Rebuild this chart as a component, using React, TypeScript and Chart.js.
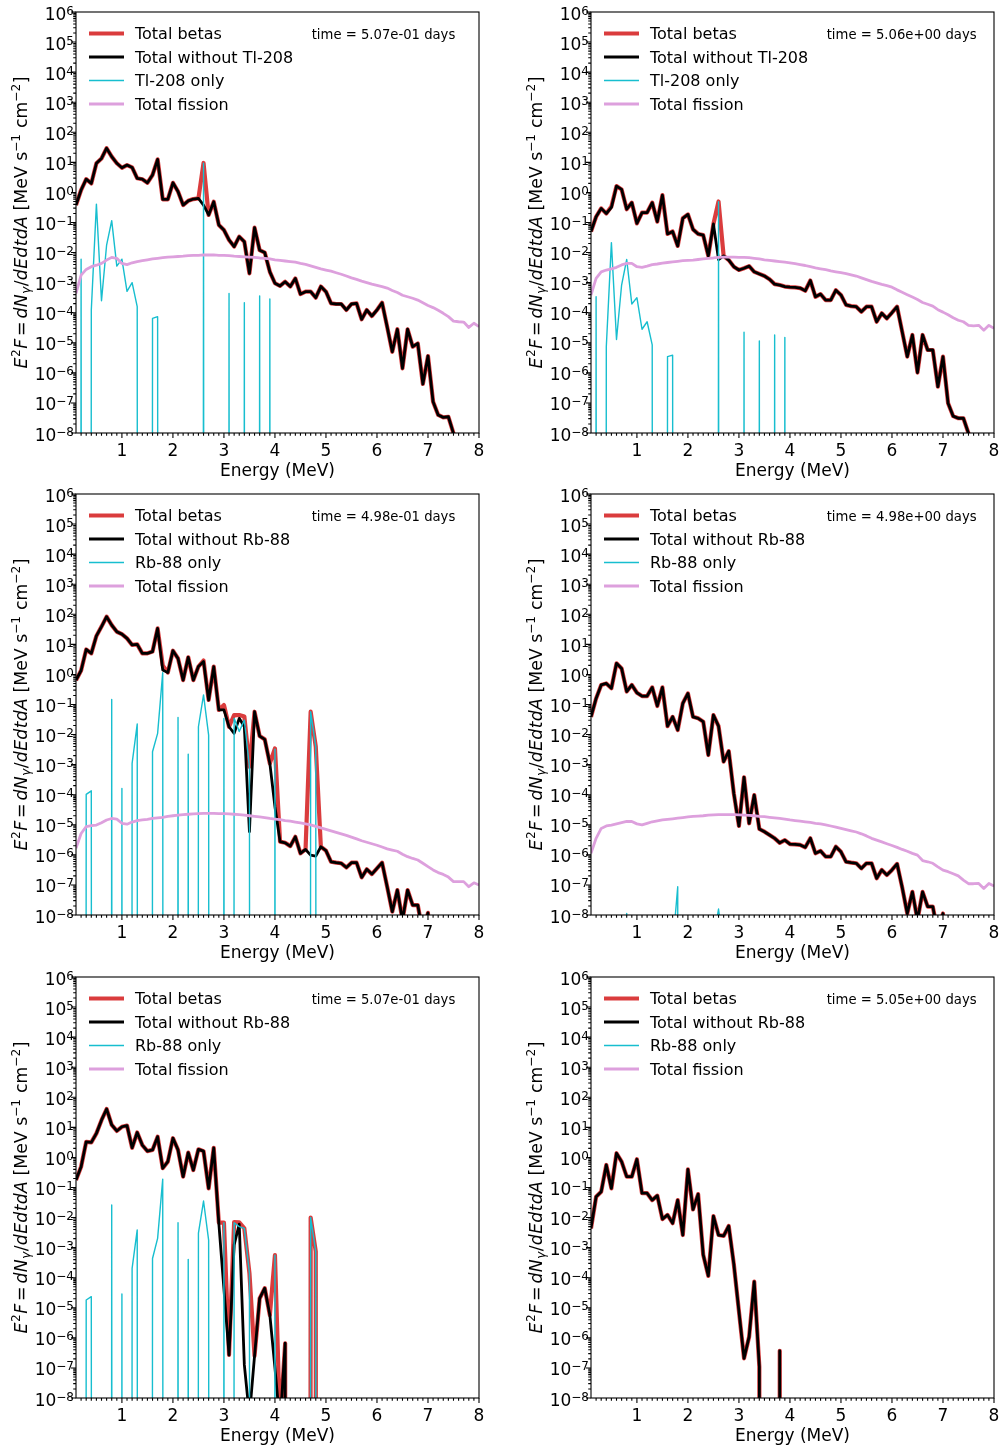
import { useEffect, useRef } from 'react';
import { Chart, registerables } from 'chart.js';

Chart.register(...registerables);

// Exponent used for empty bins: the curve drops straight off the log axis there.
const Z = -300;

// Bin energies (MeV), lower edges of 0.1 MeV bins.
const ENERGY_MEV = [
  0.1, 0.2, 0.3, 0.4, 0.5, 0.6, 0.7, 0.8, 0.9, 1.0,
  1.1, 1.2, 1.3, 1.4, 1.5, 1.6, 1.7, 1.8, 1.9, 2.0,
  2.1, 2.2, 2.3, 2.4, 2.5, 2.6, 2.7, 2.8, 2.9, 3.0,
  3.1, 3.2, 3.3, 3.4, 3.5, 3.6, 3.7, 3.8, 3.9, 4.0,
  4.1, 4.2, 4.3, 4.4, 4.5, 4.6, 4.7, 4.8, 4.9, 5.0,
  5.1, 5.2, 5.3, 5.4, 5.5, 5.6, 5.7, 5.8, 5.9, 6.0,
  6.1, 6.2, 6.3, 6.4, 6.5, 6.6, 6.7, 6.8, 6.9, 7.0,
  7.1, 7.2, 7.3, 7.4, 7.5, 7.6, 7.7, 7.8, 7.9, 8.0,
];

// All spectra below are log10(E^2 F) per bin, in MeV s^-1 cm^-2.

// ---------- Tl-208 case, time = 5.07e-01 days ----------
const TL_A_TOTAL = [
  -0.42, 0.08, 0.44, 0.30, 0.97, 1.13, 1.47, 1.19, 0.97, 0.82,
  0.91, 0.83, 0.47, 0.44, 0.32, 0.58, 1.10, -0.23, -0.23, 0.32,
  0.03, -0.42, -0.28, -0.22, -0.20, 0.98, -0.75, -0.31, -1.08, -1.25,
  -1.58, -1.80, -1.47, -1.64, -2.69, -1.17, -1.92, -2.00, -2.64, -3.02,
  -3.11, -2.97, -3.13, -2.86, -3.38, -3.30, -3.30, -3.50, -3.13, -3.30,
  -3.69, -3.71, -3.71, -3.91, -3.71, -3.69, -4.22, -3.91, -4.11, -3.91,
  -3.67, -4.47, -5.30, -4.55, -5.85, -4.55, -5.13, -5.02, -6.37, -5.44,
  -6.96, -7.40, -7.48, -7.46, -8.01, Z, Z, Z, Z, Z,
];
const TL_A_WITHOUT = [
  -0.42, 0.08, 0.44, 0.30, 0.97, 1.13, 1.47, 1.19, 0.97, 0.82,
  0.91, 0.83, 0.47, 0.44, 0.32, 0.58, 1.10, -0.23, -0.23, 0.32,
  0.03, -0.42, -0.28, -0.22, -0.20, -0.42, -0.75, -0.31, -1.08, -1.25,
  -1.58, -1.80, -1.47, -1.64, -2.69, -1.17, -1.92, -2.00, -2.64, -3.02,
  -3.11, -2.97, -3.13, -2.86, -3.38, -3.30, -3.30, -3.50, -3.13, -3.30,
  -3.69, -3.71, -3.71, -3.91, -3.71, -3.69, -4.22, -3.91, -4.11, -3.91,
  -3.67, -4.47, -5.30, -4.55, -5.85, -4.55, -5.13, -5.02, -6.37, -5.44,
  -6.96, -7.40, -7.48, -7.46, -8.01, Z, Z, Z, Z, Z,
];
// [energy, log10 value] for the non-empty bins
const TL_A_ONLY: [number, number][] = [
  [0.2, -2.22], [0.4, -3.91], [0.5, -0.39], [0.6, -3.60], [0.7, -1.75],
  [0.8, -0.94], [0.9, -2.45], [1.0, -2.22], [1.1, -3.29], [1.2, -3.00],
  [1.3, -3.80], [1.6, -4.19], [1.7, -4.13], [2.6, 0.97], [3.1, -3.36],
  [3.4, -3.67], [3.7, -3.44], [3.9, -3.54],
];
const TL_A_FISSION = [
  -3.36, -2.75, -2.56, -2.47, -2.42, -2.36, -2.25, -2.16, -2.19, -2.36,
  -2.40, -2.34, -2.30, -2.27, -2.24, -2.21, -2.19, -2.17, -2.15, -2.14,
  -2.13, -2.12, -2.10, -2.09, -2.09, -2.08, -2.08, -2.08, -2.09, -2.09,
  -2.10, -2.12, -2.13, -2.14, -2.15, -2.16, -2.18, -2.19, -2.21, -2.24,
  -2.26, -2.28, -2.30, -2.32, -2.36, -2.39, -2.44, -2.49, -2.54, -2.58,
  -2.62, -2.67, -2.72, -2.78, -2.84, -2.89, -2.95, -3.00, -3.05, -3.09,
  -3.13, -3.18, -3.26, -3.33, -3.42, -3.47, -3.52, -3.58, -3.67, -3.76,
  -3.83, -3.92, -4.02, -4.13, -4.28, -4.30, -4.31, -4.49, -4.35, -4.46,
];

// ---------- Tl-208 case, time = 5.06e+00 days ----------
const TL_B_TOTAL = [
  -1.30, -0.81, -0.53, -0.70, -0.47, 0.21, 0.10, -0.56, -0.34, -1.03,
  -0.67, -0.67, -0.34, -0.97, -0.09, -1.38, -1.30, -1.78, -0.86, -0.73,
  -1.23, -1.38, -1.42, -2.11, -1.05, -0.30, -2.11, -2.25, -2.47, -2.58,
  -2.52, -2.45, -2.64, -2.71, -2.78, -2.89, -3.05, -3.08, -3.13, -3.15,
  -3.16, -3.18, -3.27, -2.93, -3.47, -3.38, -3.58, -3.58, -3.25, -3.41,
  -3.74, -3.78, -3.80, -3.97, -3.80, -3.80, -4.30, -4.02, -4.19, -4.00,
  -3.80, -4.63, -5.46, -4.74, -5.99, -4.74, -5.24, -5.24, -6.46, -5.46,
  -7.01, -7.44, -7.51, -7.51, -8.01, Z, Z, Z, Z, Z,
];
const TL_B_WITHOUT = [
  -1.30, -0.81, -0.53, -0.70, -0.50, 0.21, 0.10, -0.56, -0.34, -1.03,
  -0.67, -0.67, -0.34, -0.97, -0.09, -1.38, -1.30, -1.78, -0.86, -0.73,
  -1.23, -1.38, -1.42, -2.11, -1.05, -2.23, -2.11, -2.25, -2.47, -2.58,
  -2.52, -2.45, -2.64, -2.71, -2.78, -2.89, -3.05, -3.08, -3.13, -3.15,
  -3.16, -3.18, -3.27, -2.93, -3.47, -3.38, -3.58, -3.58, -3.25, -3.41,
  -3.74, -3.78, -3.80, -3.97, -3.80, -3.80, -4.30, -4.02, -4.19, -4.00,
  -3.80, -4.63, -5.46, -4.74, -5.99, -4.74, -5.24, -5.24, -6.46, -5.46,
  -7.01, -7.44, -7.51, -7.51, -8.01, Z, Z, Z, Z, Z,
];
const TL_B_ONLY: [number, number][] = [
  [0.2, -3.47], [0.4, -5.13], [0.5, -1.67], [0.6, -4.89], [0.7, -3.08],
  [0.8, -2.23], [0.9, -3.71], [1.0, -3.50], [1.1, -4.55], [1.2, -4.30],
  [1.3, -5.07], [1.6, -5.46], [1.7, -5.41], [2.6, -0.31], [3.1, -4.65],
  [3.4, -4.94], [3.7, -4.74], [3.9, -4.82],
];
const TL_B_FISSION = [
  -3.41, -2.86, -2.64, -2.58, -2.54, -2.49, -2.41, -2.36, -2.36, -2.47,
  -2.49, -2.45, -2.40, -2.38, -2.35, -2.33, -2.31, -2.29, -2.27, -2.26,
  -2.25, -2.23, -2.21, -2.19, -2.18, -2.16, -2.15, -2.15, -2.15, -2.16,
  -2.16, -2.17, -2.19, -2.21, -2.24, -2.26, -2.28, -2.30, -2.32, -2.34,
  -2.37, -2.40, -2.43, -2.47, -2.51, -2.54, -2.57, -2.61, -2.64, -2.67,
  -2.70, -2.74, -2.78, -2.84, -2.90, -2.96, -3.01, -3.06, -3.10, -3.15,
  -3.24, -3.32, -3.40, -3.48, -3.56, -3.66, -3.72, -3.78, -3.90, -3.98,
  -4.07, -4.17, -4.25, -4.30, -4.42, -4.44, -4.42, -4.58, -4.42, -4.52,
];

// ---------- Rb-88 case, time = 4.98e-01 days ----------
const RB_A_TOTAL = [
  -0.19, 0.13, 0.83, 0.70, 1.28, 1.59, 1.92, 1.64, 1.42, 1.34,
  1.20, 0.98, 1.00, 0.70, 0.70, 0.76, 1.53, 0.30, 0.06, 0.79,
  0.53, -0.19, 0.57, -0.19, 0.26, 0.46, -0.85, 0.26, -1.18, -1.02,
  -1.74, -1.35, -1.35, -1.40, -3.07, -1.24, -2.05, -2.16, -2.96, -2.46,
  -5.56, -5.60, -5.71, -5.40, -5.95, -5.82, -1.24, -2.40, -5.73, -5.86,
  -6.23, -6.26, -6.28, -6.42, -6.26, -6.26, -6.75, -6.48, -6.64, -6.45,
  -6.26, -7.06, -7.89, -7.17, -8.17, -7.17, -7.67, -7.67, -8.60, -7.93,
  Z, Z, Z, Z, Z, Z, Z, Z, Z, Z,
];
const RB_A_WITHOUT = [
  -0.19, 0.13, 0.83, 0.70, 1.28, 1.59, 1.92, 1.64, 1.42, 1.34,
  1.20, 0.98, 1.00, 0.70, 0.70, 0.76, 1.53, 0.15, 0.06, 0.79,
  0.53, -0.19, 0.57, -0.19, 0.26, 0.43, -0.85, 0.26, -1.18, -1.18,
  -1.74, -1.96, -1.46, -1.74, -5.23, -1.24, -2.05, -2.16, -2.96, -4.40,
  -5.56, -5.60, -5.71, -5.40, -5.95, -5.82, -6.01, -6.04, -5.73, -5.86,
  -6.23, -6.26, -6.28, -6.42, -6.26, -6.26, -6.75, -6.48, -6.64, -6.45,
  -6.26, -7.06, -7.89, -7.17, -8.17, -7.17, -7.67, -7.67, -8.60, -7.93,
  Z, Z, Z, Z, Z, Z, Z, Z, Z, Z,
];
const RB_A_ONLY: [number, number][] = [
  [0.3, -3.99], [0.4, -3.87], [0.8, -0.83], [1.0, -3.79], [1.2, -2.96],
  [1.3, -1.65], [1.6, -2.57], [1.7, -1.96], [1.8, 0.06], [2.1, -1.43],
  [2.3, -2.65], [2.5, -1.74], [2.6, -0.68], [2.7, -2.02], [3.0, -1.46],
  [3.2, -1.46], [3.3, -1.90], [3.4, -1.52], [3.5, -3.07], [4.0, -2.49],
  [4.7, -1.24], [4.8, -2.40],
];
const RB_A_FISSION = [
  -5.78, -5.29, -5.06, -5.03, -5.01, -4.93, -4.84, -4.79, -4.81, -4.95,
  -4.98, -4.91, -4.86, -4.84, -4.82, -4.79, -4.77, -4.75, -4.72, -4.70,
  -4.68, -4.66, -4.65, -4.64, -4.63, -4.62, -4.62, -4.62, -4.63, -4.63,
  -4.64, -4.65, -4.66, -4.68, -4.70, -4.72, -4.74, -4.76, -4.79, -4.81,
  -4.83, -4.86, -4.88, -4.91, -4.94, -4.97, -5.00, -5.05, -5.10, -5.15,
  -5.20, -5.25, -5.30, -5.35, -5.41, -5.47, -5.53, -5.58, -5.63, -5.68,
  -5.74, -5.80, -5.84, -5.88, -5.98, -6.06, -6.12, -6.17, -6.28, -6.39,
  -6.50, -6.59, -6.65, -6.74, -6.89, -6.89, -6.89, -7.06, -6.93, -7.00,
];

// ---------- Rb-88 case, time = 4.98e+00 days ----------
const RB_B_TOTAL = [
  -1.41, -0.80, -0.35, -0.30, -0.46, 0.37, 0.20, -0.57, -0.35, -0.61,
  -0.72, -0.72, -0.43, -1.05, -0.43, -1.72, -1.41, -1.85, -0.96, -0.63,
  -1.41, -1.46, -1.57, -2.68, -1.35, -1.72, -2.90, -2.55, -3.96, -5.04,
  -3.42, -4.95, -4.01, -5.14, -5.23, -5.34, -5.45, -5.60, -5.51, -5.64,
  -5.65, -5.67, -5.75, -5.45, -5.95, -5.87, -6.06, -6.06, -5.73, -5.90,
  -6.23, -6.26, -6.28, -6.45, -6.28, -6.28, -6.78, -6.50, -6.67, -6.50,
  -6.30, -7.08, -7.95, -7.23, -8.17, -7.23, -7.72, -7.72, -8.60, -7.95,
  Z, Z, Z, Z, Z, Z, Z, Z, Z, Z,
];
const RB_B_WITHOUT = [
  -1.41, -0.80, -0.35, -0.30, -0.46, 0.37, 0.20, -0.57, -0.35, -0.61,
  -0.72, -0.72, -0.43, -1.05, -0.43, -1.72, -1.41, -1.85, -0.96, -0.63,
  -1.41, -1.46, -1.57, -2.68, -1.35, -1.72, -2.90, -2.55, -3.96, -5.04,
  -3.42, -4.95, -4.01, -5.14, -5.23, -5.34, -5.45, -5.60, -5.51, -5.64,
  -5.65, -5.67, -5.75, -5.45, -5.95, -5.87, -6.06, -6.06, -5.73, -5.90,
  -6.23, -6.26, -6.28, -6.45, -6.28, -6.28, -6.78, -6.50, -6.67, -6.50,
  -6.30, -7.08, -7.95, -7.23, -8.17, -7.23, -7.72, -7.72, -8.60, -7.95,
  Z, Z, Z, Z, Z, Z, Z, Z, Z, Z,
];
const RB_B_ONLY: [number, number][] = [
  [0.8, -7.95], [1.6, -9.69], [1.7, -9.08], [1.8, -7.06],
  [2.5, -8.86], [2.6, -7.80], [2.7, -9.14],
];
const RB_B_FISSION = [
  -5.95, -5.45, -5.12, -5.04, -5.01, -4.97, -4.93, -4.89, -4.89, -4.97,
  -5.00, -4.95, -4.90, -4.87, -4.84, -4.82, -4.80, -4.78, -4.76, -4.74,
  -4.72, -4.71, -4.70, -4.68, -4.67, -4.66, -4.66, -4.66, -4.66, -4.67,
  -4.68, -4.69, -4.70, -4.72, -4.73, -4.75, -4.77, -4.79, -4.81, -4.84,
  -4.86, -4.88, -4.90, -4.92, -4.95, -4.97, -5.00, -5.04, -5.08, -5.12,
  -5.16, -5.20, -5.24, -5.30, -5.37, -5.45, -5.51, -5.57, -5.63, -5.69,
  -5.75, -5.82, -5.88, -5.95, -6.01, -6.19, -6.23, -6.28, -6.40, -6.51,
  -6.56, -6.63, -6.70, -6.84, -6.96, -6.96, -6.95, -7.12, -6.95, -7.04,
];

// ---------- Rb-88 case, time = 5.07e-01 days ----------
const RB_C_TOTAL = [
  -0.75, -0.31, 0.52, 0.50, 0.80, 1.24, 1.61, 1.08, 0.88, 1.02,
  1.06, 0.32, 0.83, 0.41, 0.21, 0.25, 0.69, -0.36, -0.14, 0.64,
  0.25, -0.64, 0.16, -0.42, 0.27, 0.21, -1.03, 0.32, -2.17, -2.17,
  -6.57, -2.15, -2.16, -2.36, -3.85, -6.60, -4.69, -4.35, -5.24, -3.25,
  -8.90, -6.18, Z, Z, Z, Z, -2.00, -3.13, Z, Z,
  Z, Z, Z, Z, Z, Z, Z, Z, Z, Z,
  Z, Z, Z, Z, Z, Z, Z, Z, Z, Z,
  Z, Z, Z, Z, Z, Z, Z, Z, Z, Z,
];
const RB_C_WITHOUT = [
  -0.75, -0.31, 0.52, 0.50, 0.80, 1.24, 1.61, 1.08, 0.88, 1.02,
  1.06, 0.32, 0.83, 0.41, 0.21, 0.25, 0.69, -0.36, -0.14, 0.64,
  0.25, -0.64, 0.16, -0.42, 0.27, 0.21, -1.03, 0.32, -2.19, -4.38,
  -6.57, -2.91, -2.22, -6.90, -8.60, -6.60, -4.69, -4.35, -5.24, -7.00,
  -8.90, -6.18, Z, Z, Z, Z, Z, Z, Z, Z,
  Z, Z, Z, Z, Z, Z, Z, Z, Z, Z,
  Z, Z, Z, Z, Z, Z, Z, Z, Z, Z,
  Z, Z, Z, Z, Z, Z, Z, Z, Z, Z,
];
const RB_C_ONLY: [number, number][] = [
  [0.3, -4.74], [0.4, -4.63], [0.8, -1.58], [1.0, -4.54], [1.2, -3.69],
  [1.3, -2.41], [1.6, -3.36], [1.7, -2.69], [1.8, -0.72], [2.1, -2.17],
  [2.3, -3.39], [2.5, -2.52], [2.6, -1.45], [2.7, -2.75], [3.0, -2.17],
  [3.2, -2.17], [3.3, -2.30], [3.4, -2.36], [3.5, -3.85], [4.0, -3.25],
  [4.7, -2.00], [4.8, -3.13],
];
const RB_C_FISSION: number[] = [];

// ---------- Rb-88 case, time = 5.05e+00 days ----------
const RB_D_TOTAL = [
  -2.36, -1.31, -1.14, -0.25, -1.03, 0.14, -0.14, -0.64, -0.64, -0.06,
  -1.19, -1.19, -1.42, -1.27, -2.05, -1.91, -2.19, -1.42, -2.58, -0.40,
  -1.73, -1.22, -3.24, -3.94, -1.95, -2.58, -2.61, -2.28, -3.55, -5.12,
  -6.68, -5.96, -4.13, -6.96, Z, Z, Z, -6.43, Z, Z,
  Z, Z, Z, Z, Z, Z, Z, Z, Z, Z,
  Z, Z, Z, Z, Z, Z, Z, Z, Z, Z,
  Z, Z, Z, Z, Z, Z, Z, Z, Z, Z,
  Z, Z, Z, Z, Z, Z, Z, Z, Z, Z,
];
const RB_D_WITHOUT = [
  -2.36, -1.31, -1.14, -0.25, -1.03, 0.14, -0.14, -0.64, -0.64, -0.06,
  -1.19, -1.19, -1.42, -1.27, -2.05, -1.91, -2.19, -1.42, -2.58, -0.40,
  -1.73, -1.22, -3.24, -3.94, -1.95, -2.58, -2.61, -2.28, -3.55, -5.12,
  -6.68, -5.96, -4.13, -6.96, Z, Z, Z, -6.43, Z, Z,
  Z, Z, Z, Z, Z, Z, Z, Z, Z, Z,
  Z, Z, Z, Z, Z, Z, Z, Z, Z, Z,
  Z, Z, Z, Z, Z, Z, Z, Z, Z, Z,
  Z, Z, Z, Z, Z, Z, Z, Z, Z, Z,
];
const RB_D_ONLY: [number, number][] = [];
const RB_D_FISSION: number[] = [];

const Y_EXPONENTS = [-8, -7, -6, -5, -4, -3, -2, -1, 0, 1, 2, 3, 4, 5, 6];
const X_TICKS = [1, 2, 3, 4, 5, 6, 7, 8];

const RED = 'rgba(214, 39, 40, 0.9)';
const CYAN = '#17becf';
const PLUM = '#dda0dd';
const FONT = '"DejaVu Sans", "Liberation Sans", sans-serif';

type PanelSpec = {
  total: number[];
  without: number[];
  only: [number, number][];
  fission: number[];
  isotope: string;
  time: string;
};

const PANELS: PanelSpec[] = [
  { total: TL_A_TOTAL, without: TL_A_WITHOUT, only: TL_A_ONLY, fission: TL_A_FISSION, isotope: 'Tl-208', time: 'time = 5.07e-01 days' },
  { total: TL_B_TOTAL, without: TL_B_WITHOUT, only: TL_B_ONLY, fission: TL_B_FISSION, isotope: 'Tl-208', time: 'time = 5.06e+00 days' },
  { total: RB_A_TOTAL, without: RB_A_WITHOUT, only: RB_A_ONLY, fission: RB_A_FISSION, isotope: 'Rb-88', time: 'time = 4.98e-01 days' },
  { total: RB_B_TOTAL, without: RB_B_WITHOUT, only: RB_B_ONLY, fission: RB_B_FISSION, isotope: 'Rb-88', time: 'time = 4.98e+00 days' },
  { total: RB_C_TOTAL, without: RB_C_WITHOUT, only: RB_C_ONLY, fission: RB_C_FISSION, isotope: 'Rb-88', time: 'time = 5.07e-01 days' },
  { total: RB_D_TOTAL, without: RB_D_WITHOUT, only: RB_D_ONLY, fission: RB_D_FISSION, isotope: 'Rb-88', time: 'time = 5.05e+00 days' },
];

// canvas geometry
const CANVAS_H = 482;
const PLOT_LEFT = 76;
const PLOT_RIGHT = 479;
const PLOT_TOP = 12;
const PLOT_BOTTOM = 433;

function toPoints(logs: number[]) {
  return logs.map((v, i) => ({ x: ENERGY_MEV[i], y: Math.pow(10, v) }));
}

function denseFromPairs(pairs: [number, number][]) {
  return ENERGY_MEV.map((e) => {
    const hit = pairs.find((p) => Math.abs(p[0] - e) < 1e-6);
    return hit ? hit[1] : Z;
  });
}

// rich-text pieces of the y-axis title; `gap` adds math-style spacing after a piece
type Seg = { t: string; it?: boolean; sup?: boolean; sub?: boolean; gap?: number };

const Y_TITLE: Seg[] = [
  { t: 'E', it: true, gap: 0.5 }, { t: '2', sup: true, gap: 0.5 }, { t: 'F', it: true, gap: 3 },
  { t: '=', gap: 3 },
  { t: 'd', it: true, gap: 0.3 }, { t: 'N', it: true, gap: 0.3 }, { t: 'γ', it: true, sub: true, gap: 0.5 },
  { t: '/', gap: 0.3 },
  { t: 'd', it: true, gap: 0.3 }, { t: 'E', it: true, gap: 0.3 }, { t: 'd', it: true, gap: 0.3 },
  { t: 't', it: true, gap: 0.3 }, { t: 'd', it: true, gap: 0.3 }, { t: 'A', it: true, gap: 0.3 },
  { t: ' [MeV s' }, { t: '\u22121', sup: true, gap: 0.5 },
  { t: ' cm' }, { t: '\u22122', sup: true, gap: 0.5 }, { t: ']' },
];

function segFont(s: Seg, fs: number) {
  const size = s.sup || s.sub ? fs * 0.7 : fs;
  return `${s.it ? 'italic ' : ''}${size}px ${FONT}`;
}

function decorations(spec: PanelSpec) {
  return {
    id: 'decorations',
    afterDraw(chart: any) {
      const ctx: CanvasRenderingContext2D = chart.ctx;
      const { left, right, top, bottom } = chart.chartArea;
      const xs = chart.scales.x;
      const ys = chart.scales.y;
      ctx.save();
      ctx.strokeStyle = '#000';
      ctx.fillStyle = '#000';
      ctx.lineWidth = 1.1;

      // frame
      ctx.strokeRect(left, top, right - left, bottom - top);

      // y ticks
      ctx.beginPath();
      Y_EXPONENTS.forEach((e) => {
        const y = ys.getPixelForValue(Math.pow(10, e));
        ctx.moveTo(left - 5, y);
        ctx.lineTo(left, y);
        if (e < 6) {
          for (let m = 2; m <= 9; m++) {
            const ym = ys.getPixelForValue(m * Math.pow(10, e));
            ctx.moveTo(left - 2.8, ym);
            ctx.lineTo(left, ym);
          }
        }
      });
      // x ticks: majors at whole MeV, minors every 0.1 MeV
      X_TICKS.forEach((k) => {
        const x = xs.getPixelForValue(k);
        ctx.moveTo(x, bottom);
        ctx.lineTo(x, bottom + 5);
      });
      for (let k = 2; k < 80; k++) {
        if (k % 10 === 0) continue;
        const x = xs.getPixelForValue(k / 10);
        ctx.moveTo(x, bottom);
        ctx.lineTo(x, bottom + 2.8);
      }
      ctx.stroke();

      // y tick labels 10^n
      ctx.textBaseline = 'alphabetic';
      ctx.textAlign = 'left';
      Y_EXPONENTS.forEach((e) => {
        const y = ys.getPixelForValue(Math.pow(10, e));
        const exp = e < 0 ? '\u2212' + String(-e) : String(e);
        ctx.font = `17px ${FONT}`;
        const wb = ctx.measureText('10').width;
        ctx.font = `12px ${FONT}`;
        const we = ctx.measureText(exp).width;
        const xr = left - 2;
        ctx.font = `17px ${FONT}`;
        ctx.fillText('10', xr - we - wb, y + 7.5);
        ctx.font = `12px ${FONT}`;
        ctx.fillText(exp, xr - we, y + 2.5);
      });

      // x tick labels
      ctx.font = `17px ${FONT}`;
      ctx.textAlign = 'center';
      X_TICKS.forEach((k) => {
        ctx.fillText(String(k), xs.getPixelForValue(k), bottom + 23);
      });
      ctx.fillText('Energy (MeV)', (left + right) / 2, bottom + 43);

      // y title, rotated
      ctx.save();
      ctx.translate(27, (top + bottom) / 2);
      ctx.rotate(-Math.PI / 2);
      ctx.textAlign = 'left';
      const fs = 17.3;
      let total = 0;
      Y_TITLE.forEach((s) => {
        ctx.font = segFont(s, fs);
        total += ctx.measureText(s.t).width + (s.gap || 0);
      });
      let cx = -total / 2;
      Y_TITLE.forEach((s) => {
        ctx.font = segFont(s, fs);
        const dy = s.sup ? -0.4 * fs : s.sub ? 0.18 * fs : 0;
        ctx.fillText(s.t, cx, dy);
        cx += ctx.measureText(s.t).width + (s.gap || 0);
      });
      ctx.restore();

      // legend
      const entries = [
        { label: 'Total betas', color: RED, w: 4.2 },
        { label: `Total without ${spec.isotope}`, color: '#000', w: 2.8 },
        { label: `${spec.isotope} only`, color: CYAN, w: 1.4 },
        { label: 'Total fission', color: PLUM, w: 2.8 },
      ];
      ctx.font = `16px ${FONT}`;
      ctx.textAlign = 'left';
      entries.forEach((en, i) => {
        const yh = top + 21.5 + i * 23.5;
        ctx.beginPath();
        ctx.strokeStyle = en.color;
        ctx.lineWidth = en.w;
        ctx.lineCap = 'butt';
        ctx.moveTo(left + 13, yh);
        ctx.lineTo(left + 48, yh);
        ctx.stroke();
        ctx.fillStyle = '#000';
        ctx.fillText(en.label, left + 59, yh + 5.8);
      });

      // time stamp
      ctx.font = `13.2px ${FONT}`;
      ctx.fillText(spec.time, left + 235.7, top + 26.7);
      ctx.restore();
    },
  };
}

function SpectrumPanel({ spec, x, y, w }: { spec: PanelSpec; x: number; y: number; w: number }) {
  const ref = useRef<HTMLCanvasElement>(null);
  useEffect(() => {
    const canvas = ref.current;
    if (!canvas) return;
    const line = (data: any[], color: string, width: number, order: number) => ({
      data,
      borderColor: color,
      backgroundColor: color,
      borderWidth: width,
      pointRadius: 0,
      tension: 0,
      fill: false,
      borderJoinStyle: 'round' as const,
      borderCapStyle: 'butt' as const,
      clip: 0,
      order,
    });
    const chart = new Chart(canvas, {
      type: 'line',
      data: {
        datasets: [
          line(toPoints(spec.total), RED, 4.2, 3),
          line(toPoints(spec.without), '#000', 2.8, 2),
          line(toPoints(denseFromPairs(spec.only)), CYAN, 1.4, 1),
          line(spec.fission.length ? toPoints(spec.fission) : [], PLUM, 2.8, 0),
        ],
      },
      options: {
        animation: false,
        responsive: false,
        maintainAspectRatio: false,
        devicePixelRatio: 1,
        events: [],
        layout: {
          padding: { left: PLOT_LEFT, right: w - PLOT_RIGHT, top: PLOT_TOP, bottom: CANVAS_H - PLOT_BOTTOM },
        },
        scales: {
          x: { type: 'linear', min: 0.1, max: 8, display: false },
          y: { type: 'logarithmic', min: 1e-8, max: 1e6, display: false },
        },
        plugins: { legend: { display: false }, tooltip: { enabled: false } },
      },
      plugins: [decorations(spec)],
    });
    return () => chart.destroy();
  }, [spec, w]);
  return (
    <canvas
      ref={ref}
      width={w}
      height={CANVAS_H}
      style={{ position: 'absolute', left: x, top: y, width: w, height: CANVAS_H }}
    />
  );
}

const ROW_TOPS = [0, 482, 965];

export default function App() {
  return (
    <div style={{ position: 'absolute', left: 0, top: 0, width: 1000, height: 1450, background: '#fff' }}>
      {PANELS.map((spec, i) => {
        const col = i % 2;
        const row = Math.floor(i / 2);
        return (
          <SpectrumPanel
            key={i}
            spec={spec}
            x={col === 0 ? 0 : 515}
            y={ROW_TOPS[row]}
            w={col === 0 ? 515 : 485}
          />
        );
      })}
    </div>
  );
}
